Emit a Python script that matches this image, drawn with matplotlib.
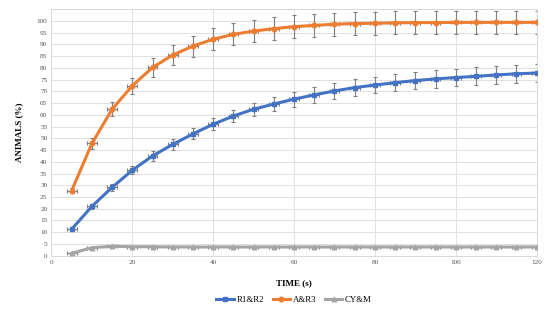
import matplotlib.pyplot as plt
import numpy as np

# time points (s)
time_s = [5, 10, 15, 20, 25, 30, 35, 40, 45, 50, 55, 60,
          65, 70, 75, 80, 85, 90, 95, 100, 105, 110, 115, 120]

r1r2 = [11.3, 21, 29.1, 36.4, 42.5, 47.4, 51.9, 56, 59.5, 62.4, 64.6, 66.7,
        68.5, 70.2, 71.6, 72.7, 73.7, 74.6, 75.3, 75.9, 76.4, 77, 77.5, 77.8]
r1r2_err = [0.6, 1, 1.5, 1.8, 2, 2.2, 2.4, 2.5, 2.6, 2.8, 3, 3.2,
            3.3, 3.4, 3.5, 3.5, 3.6, 3.6, 3.7, 3.7, 3.8, 3.8, 3.9, 3.9]

ar3 = [27.7, 47.8, 62.4, 72.4, 80.2, 85.5, 89.3, 92.2, 94.3, 95.7, 96.7, 97.6,
       98.1, 98.6, 98.9, 99.0, 99.2, 99.3, 99.3, 99.4, 99.4, 99.4, 99.4, 99.4]
ar3_err = [1, 2.5, 3, 3.5, 4, 4.3, 4.5, 4.6, 4.7, 4.8, 4.8, 4.9,
           4.9, 4.9, 4.9, 4.9, 4.9, 4.9, 4.9, 4.9, 4.9, 4.9, 4.9, 4.9]

cym = [1.0, 3.4, 4.0, 3.8, 3.8, 3.7, 3.7, 3.7, 3.7, 3.7, 3.7, 3.7,
       3.7, 3.7, 3.7, 3.7, 3.7, 3.7, 3.7, 3.7, 3.7, 3.7, 3.7, 3.7]
cym_err = [0.3, 0.4, 0.5, 0.4, 0.4, 0.4, 0.4, 0.4, 0.4, 0.4, 0.4, 0.4,
           0.4, 0.4, 0.4, 0.4, 0.4, 0.4, 0.4, 0.4, 0.4, 0.4, 0.4, 0.4]

time_err = 1.2

plt.rcParams['font.family'] = ['Liberation Serif', 'DejaVu Serif']

fig = plt.figure(figsize=(5.5, 3.18), dpi=100)
ax = fig.add_axes([0.0936, 0.196, 0.882, 0.775])

series = [
    (r1r2, r1r2_err, "R1&R2", "#4472C4", "s"),
    (ar3, ar3_err, "A&R3", "#ED7D31", "o"),
    (cym, cym_err, "CY&M", "#A5A5A5", "^"),
]
for vals, errs, name, col, mk in series:
    ax.errorbar(time_s, vals, yerr=errs, xerr=time_err, fmt='none',
                ecolor="#7F7F7F", elinewidth=0.8, capsize=1.6, capthick=0.8,
                zorder=2)
    ax.plot(time_s, vals, color=col, lw=2.2, marker=mk, ms=3.3,
            label=name, zorder=3)

ax.set_xlim(0, 120)
ax.set_ylim(0, 105)
ax.set_xticks(np.arange(0, 121, 20))
ax.set_yticks(np.arange(0, 101, 5))
ax.tick_params(length=0, labelsize=5.2, colors="#595959", pad=3)
ax.grid(True, color="#E0E0E0", lw=0.7)
ax.set_axisbelow(True)
for sp in ax.spines.values():
    sp.set_color("#D9D9D9")
    sp.set_linewidth(0.7)

ax.set_xlabel("TIME (s)", fontsize=6.5, fontweight='bold', labelpad=10)
ax.set_ylabel("ANIMALS (%)", fontsize=6.5, fontweight='bold', labelpad=10)

ax.legend(loc='center', bbox_to_anchor=(0.5, -0.18), ncol=3,
          frameon=False, fontsize=6.3, handlelength=2.0, handletextpad=0.3,
          columnspacing=1.0)

fig.savefig("out.png", dpi=100)
